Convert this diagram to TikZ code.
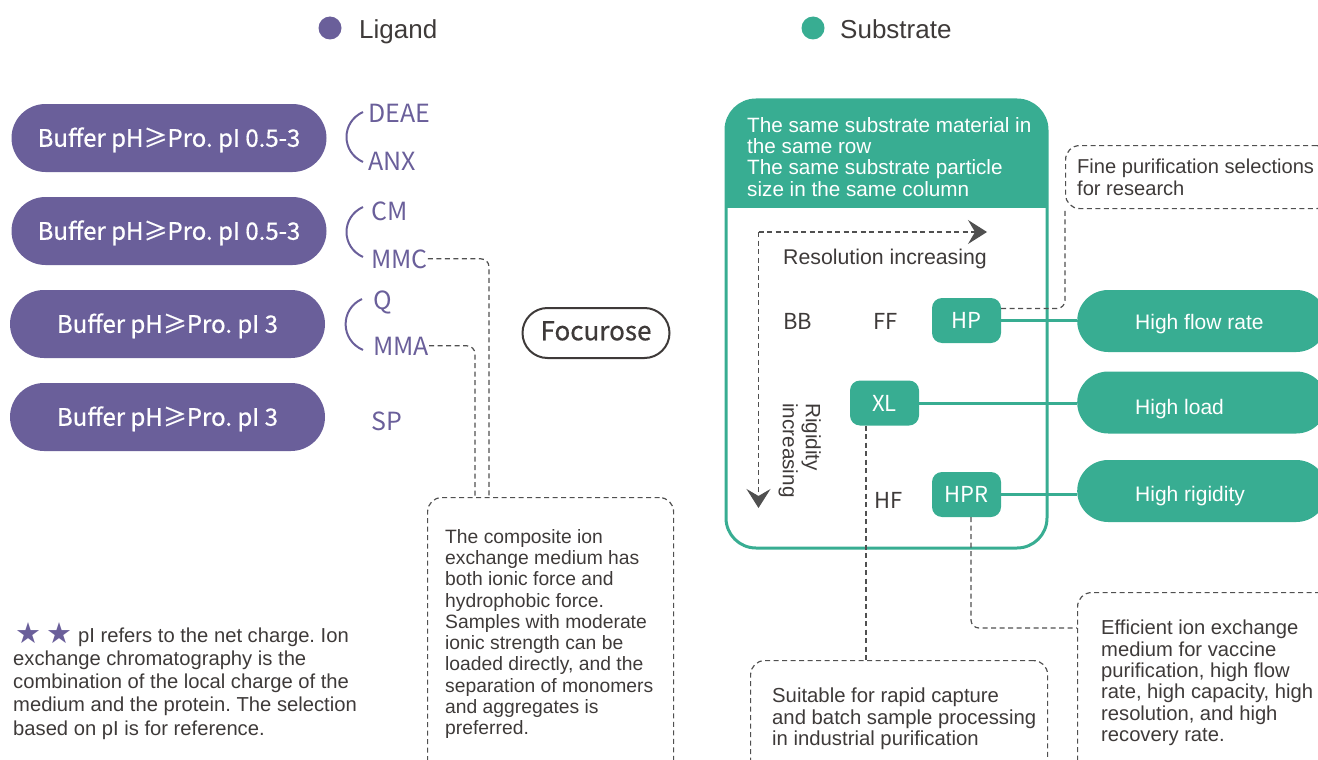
\documentclass[tikz,border=0pt]{standalone}
\usepackage{fontspec}
\setmainfont{Liberation Sans}
\newfontfamily\cjk{Noto Sans CJK SC}
\newfontfamily\cjkm[FakeBold=0.6]{Noto Sans CJK SC}
\newfontfamily\dejavu{DejaVu Sans}
\usetikzlibrary{arrows.meta}
\definecolor{lpurple}{HTML}{6A5F9A}
\definecolor{sgreen}{HTML}{38AD92}
\definecolor{tgray}{HTML}{3E3A39}
\definecolor{dgray}{HTML}{505050}
\frenchspacing
\begin{document}
\begin{tikzpicture}[x=1pt,y=-1pt,
  txt/.style={inner sep=0pt, text=tgray, font=\fontsize{19.5}{21.3}\selectfont, align=left},
  dline/.style={draw=dgray, line width=1.2pt, dash pattern=on 5pt off 3.5pt},
  pill/.style={fill=lpurple, rounded corners=34pt, minimum width=315pt, minimum height=68pt, text=white, font=\cjkm\fontsize{24}{24}\selectfont, text height=17.5pt, text depth=0pt, inner sep=0pt},
  plabel/.style={inner sep=0pt, text=lpurple, font=\cjk\fontsize{25}{25}\selectfont, anchor=base west},
  bracket/.style={draw=lpurple, line width=2pt},
  gbtn/.style={fill=sgreen, rounded corners=10pt, minimum width=69pt, minimum height=45pt, text=white, font=\cjk\fontsize{22}{22}\selectfont, text height=16pt, text depth=0pt, inner sep=0pt},
  gpill/.style={fill=sgreen, rounded corners=31pt, minimum width=250pt, minimum height=62pt, anchor=west, inner sep=0pt},
  gptxt/.style={inner sep=0pt, text=white, font=\fontsize{21}{21}\selectfont, anchor=base west},
  dbox/.style={dline, rounded corners=14pt, anchor=north west, inner sep=0pt},
  glabel/.style={inner sep=0pt, text=tgray, font=\cjk\fontsize{22}{22}\selectfont, anchor=base west},
  gline/.style={draw=sgreen, line width=3pt},
  arr/.style={-{Stealth[length=19pt,width=24pt,inset=7pt]}, draw=dgray}
]
\path[use as bounding box] (0,0) rectangle (1318,760);
\clip (0,0) rectangle (1318,760);

% legend
\node[circle, fill=lpurple, minimum size=23pt, inner sep=0pt] (lgdot) at (330,28) {};
\node[txt, font=\fontsize{26}{26}\selectfont, anchor=base west] (ligand) at (359,39) {Ligand};
\node[circle, fill=sgreen, minimum size=23pt, inner sep=0pt] (sbdot) at (813,28) {};
\node[txt, font=\fontsize{26}{26}\selectfont, anchor=base west] (substrate) at (840,39) {Substrate};

% purple pills
\node[pill] (p1) at (169,138) {Buffer pH≥Pro. pI 0.5-3};
\node[pill] (p2) at (169,231) {Buffer pH≥Pro. pI 0.5-3};
\node[pill] (p3) at (167.5,324) {Buffer pH≥Pro. pI 3};
\node[pill] (p4) at (167.5,417) {Buffer pH≥Pro. pI 3};

% ligand labels
\node[plabel] (DEAE) at (368,122) {DEAE};
\node[plabel] (ANX) at (368,170) {ANX};
\node[plabel] (CM) at (371,220) {CM};
\node[plabel] (MMC) at (371,268) {MMC};
\node[plabel] (Q) at (373,309) {Q};
\node[plabel] (MMA) at (373,355) {MMA};
\node[plabel] (SP) at (371,430) {SP};

\draw[bracket] (363,112) .. controls (341,122) and (341,152) .. (363,162);
\draw[bracket] (363,207) .. controls (341,217) and (341,247) .. (363,257);
\draw[bracket] (362,299) .. controls (340,309) and (340,340) .. (363,350);

% Focurose
\node[draw=tgray, line width=2pt, rounded corners=25pt, minimum width=147pt, minimum height=50pt, inner sep=0pt, font=\cjkm\fontsize{26}{26}\selectfont, text=tgray, text height=18.5pt, text depth=4pt] (foc) at (596,333) {Focurose};

% composite box
\node[dbox, minimum width=246pt, minimum height=280pt] (comp) at (427,497) {};
\node[txt, anchor=north west, font=\fontsize{19.3}{21.3}\selectfont] (comptxt) at (445,529) {The composite ion\\exchange medium has\\both ionic force and\\hydrophobic force.\\Samples with moderate\\ionic strength can be\\loaded directly, and the\\separation of monomers\\and aggregates is\\preferred.};
\draw[dline, rounded corners=8pt] (MMC.east) -| ([xshift=62pt]comp.north west);
\draw[dline, rounded corners=8pt] (MMA.east) -| ([xshift=48pt]comp.north west);

% footnote
\node[inner sep=0pt, text=lpurple, font=\dejavu\fontsize{29}{29}\selectfont] (s1) at (28.5,633) {★};
\node[inner sep=0pt, text=lpurple, font=\dejavu\fontsize{29}{29}\selectfont] (s2) at (59.5,633) {★};
\node[txt, font=\fontsize{20.2}{23.3}\selectfont, anchor=base west] (fn1) at (78,642) {pI refers to the net charge. Ion};
\node[txt, font=\fontsize{20.2}{23.3}\selectfont, anchor=north west] (fn2) at (13,650.5) {exchange chromatography is the\\combination of the local charge of the\\medium and the protein. The selection\\based on pI is for reference.};

% green box
\begin{scope}
\clip[rounded corners=30pt] (726,100) rectangle (1047,548);
\fill[sgreen] (726,100) rectangle (1047,208);
\end{scope}
\draw[sgreen, line width=3pt, rounded corners=30pt] (726,100) rectangle (1047,548);
\node[txt, text=white, anchor=north west, font=\fontsize{20.7}{21.3}\selectfont] (hdr) at (747,117) {The same substrate material in\\the same row\\The same substrate particle\\size in the same column};

\coordinate (corner) at (758.5,232);
\coordinate (rtip) at (987,232);
\coordinate (dtip) at (758.5,508);
\draw[dline, arr] (corner) -- (rtip);
\draw[dline, arr] (corner) -- (dtip);
\node[txt, font=\fontsize{21.3}{21.3}\selectfont, anchor=base west] (res) at (783,264) {Resolution increasing};
\node[txt, rotate=-90, anchor=north west, font=\fontsize{20.7}{23}\selectfont] (rig) at (821,403) {Rigidity\\increasing};

\node[glabel] (BB) at (783,329) {BB};
\node[glabel] (FF) at (873,329) {FF};
\node[glabel] (HF) at (874,508) {HF};
\node[gbtn] (HP) at (966.5,320.5) {HP};
\node[gbtn] (XL) at (884.5,403) {XL};
\node[gbtn] (HPR) at (966.5,494.5) {HPR};

% green pills
\node[gpill] (hfr) at (1077,321) {};
\node[gpill] (hl) at (1077,402.5) {};
\node[gpill] (hr) at (1077,491) {};
\node[gptxt] (hfrt) at (1135,329) {High flow rate};
\node[gptxt] (hlt) at (1135,414) {High load};
\node[gptxt] (hrt) at (1135,501) {High rigidity};
\draw[gline] (HP.east) -- (HP.east -| hfr.west);
\draw[gline] (XL.east) -- (XL.east -| hl.west);
\draw[gline] (HPR.east) -- (HPR.east -| hr.west);

% fine purification
\node[dbox, minimum width=265pt, minimum height=63pt] (fine) at (1065,145) {};
\node[txt, anchor=north west, font=\fontsize{20.1}{21.3}\selectfont] (finet) at (1077,159) {Fine purification selections\\for research};
\draw[dline, rounded corners=8pt] ([yshift=12pt]HP.east) -| (fine.south west);

% suitable
\node[dbox, minimum width=297pt, minimum height=120pt] (suit) at (750,660) {};
\node[txt, anchor=north west, font=\fontsize{20.3}{21.3}\selectfont] (suitt) at (772,688) {Suitable for rapid capture\\and batch sample processing\\in industrial purification};
\draw[dline] ([xshift=-18.5pt]XL.south) -- ([xshift=-18.5pt]XL.south |- suit.north);

% efficient
\node[dbox, minimum width=265pt, minimum height=190pt] (eff) at (1077,592) {};
\node[txt, anchor=north west, font=\fontsize{20.2}{21.3}\selectfont] (efft) at (1101,620) {Efficient ion exchange\\medium for vaccine\\purification, high flow\\rate, high capacity, high\\resolution, and high\\recovery rate.};
\draw[dline, rounded corners=8pt] ([xshift=4.5pt]HPR.south) |- ([yshift=-36pt]eff.north west);
\end{tikzpicture}
\end{document}
